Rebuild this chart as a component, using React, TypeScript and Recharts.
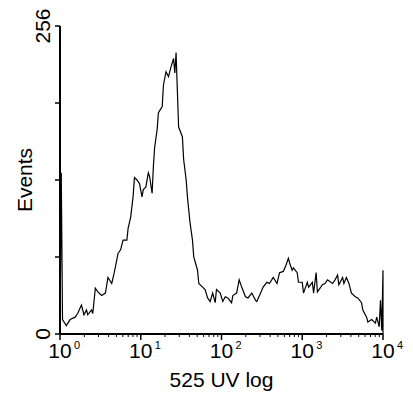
import { LineChart, Line, XAxis, YAxis, Label } from "recharts";

// histogram channel (0-256 spans 10^0..10^4) and event counts
const channels = [
  0, 1, 2, 5, 8, 12, 14, 17, 19, 21, 22, 25, 26, 28, 30, 33, 36, 38, 41, 43, 46, 48, 50, 53, 54, 56, 58, 59,
  61, 63, 65, 66, 68, 70, 71, 73, 74, 75, 77, 78, 81, 82, 84, 86, 88, 90, 91, 92, 93, 94, 97, 98, 100, 101,
  103, 105, 106, 109, 110, 113, 115, 117, 119, 121, 123, 124, 127, 129, 131, 133, 136, 137, 140, 142, 144,
  147, 149, 152, 155, 156, 159, 161, 164, 166, 169, 172, 174, 177, 179, 181, 182, 184, 185, 188, 189, 192,
  193, 196, 197, 200, 201, 203, 204, 208, 210, 212, 216, 218, 220, 221, 224, 225, 227, 229, 231, 234, 236,
  239, 240, 243, 244, 247, 250, 251, 253, 254, 255, 256, 256,
];
const events = [
  0, 134, 12, 7, 12, 14, 17, 24, 16, 20, 16, 20, 17, 38, 35, 32, 34, 47, 42, 51, 67, 70, 78, 78, 88, 97, 115, 130,
  128, 125, 114, 120, 122, 134, 131, 117, 139, 155, 170, 184, 189, 207, 218, 214, 222, 229, 217, 234, 203, 172, 164, 145, 128, 114,
  93, 78, 64, 53, 42, 39, 37, 30, 27, 34, 26, 37, 34, 27, 31, 30, 26, 32, 34, 45, 39,
  31, 30, 34, 28, 27, 34, 39, 43, 42, 47, 42, 51, 52, 57, 63, 59, 53, 55, 51, 43, 43,
  34, 43, 39, 43, 34, 51, 35, 41, 42, 45, 42, 45, 49, 41, 47, 42, 47, 42, 34, 31, 30,
  26, 20, 14, 10, 12, 9, 14, 6, 28, 3, 53, 0,
];

const decadeExponents = ["0", "1", "2", "3", "4"];
const yTicks = [0, 64, 128, 192, 256];
const yTickLabels = ["0", "", "", "", "256"];

const data = channels.map((ch, i) => ({ ch, n: events[i] }));

const majorTicks = decadeExponents.map((_, d) => d * 64);
const xTicks: number[] = [];
majorTicks.forEach((m, d) => {
  xTicks.push(m);
  if (d < 4) for (let k = 2; k <= 9; k++) xTicks.push(64 * (d + Math.log10(k)));
});

const font = "'Liberation Sans', Arial, sans-serif";

const XTick = ({ x, y, payload }: any) => {
  const idx = majorTicks.indexOf(payload.value);
  if (idx < 0) {
    return <line x1={x} x2={x} y1={y} y2={y + 3} stroke="#000" strokeWidth={1} />;
  }
  return (
    <g>
      <line x1={x} x2={x} y1={y} y2={y + 6} stroke="#000" strokeWidth={1.5} />
      <text x={x} y={y + 24} textAnchor="middle" fontSize={21} fontFamily={font} fill="#000">
        10
      </text>
      <text x={x + 14} y={y + 15} fontSize={11} fontFamily={font} fill="#000">
        {decadeExponents[idx]}
      </text>
    </g>
  );
};

const YTick = ({ x, y, payload }: any) => {
  const label = yTickLabels[yTicks.indexOf(payload.value)];
  return (
    <g>
      <line x1={x - 5} x2={x} y1={y} y2={y} stroke="#000" strokeWidth={1.5} />
      {label && (
        <text
          x={x - 10}
          y={y}
          transform={`rotate(-90, ${x - 10}, ${y})`}
          textAnchor="middle"
          fontSize={21}
          fontFamily={font}
          fill="#000"
        >
          {label}
        </text>
      )}
    </g>
  );
};

export default function App() {
  return (
    <div style={{ position: "absolute", left: 0, top: 0, background: "#fff" }}>
      <LineChart width={413} height={396} data={data} margin={{ top: 26, right: 30, bottom: 0, left: 0 }}>
        <XAxis
          dataKey="ch"
          type="number"
          domain={[0, 256]}
          ticks={xTicks}
          interval={0}
          tick={<XTick />}
          tickLine={false}
          tickSize={0}
          tickMargin={0}
          height={62}
          axisLine={{ stroke: "#000", strokeWidth: 2 }}
        >
          <Label
            content={({ viewBox }: any) => (
              <text
                x={viewBox.x + viewBox.width / 2}
                y={viewBox.y + 53}
                textAnchor="middle"
                fontSize={21}
                fontFamily={font}
                fill="#000"
              >
                525 UV log
              </text>
            )}
          />
        </XAxis>
        <YAxis
          type="number"
          domain={[0, 256]}
          ticks={yTicks}
          interval={0}
          tick={<YTick />}
          tickLine={false}
          tickSize={0}
          tickMargin={0}
          width={60}
          axisLine={{ stroke: "#000", strokeWidth: 2 }}
        >
          <Label
            content={({ viewBox }: any) => {
              const cx = viewBox.x + 32;
              const cy = viewBox.y + viewBox.height / 2;
              return (
                <text
                  x={cx}
                  y={cy}
                  transform={`rotate(-90, ${cx}, ${cy})`}
                  textAnchor="middle"
                  fontSize={21}
                  fontFamily={font}
                  fill="#000"
                >
                  Events
                </text>
              );
            }}
          />
        </YAxis>
        <Line
          dataKey="n"
          type="linear"
          stroke="#000"
          strokeWidth={1.2}
          dot={false}
          isAnimationActive={false}
        />
      </LineChart>
    </div>
  );
}
